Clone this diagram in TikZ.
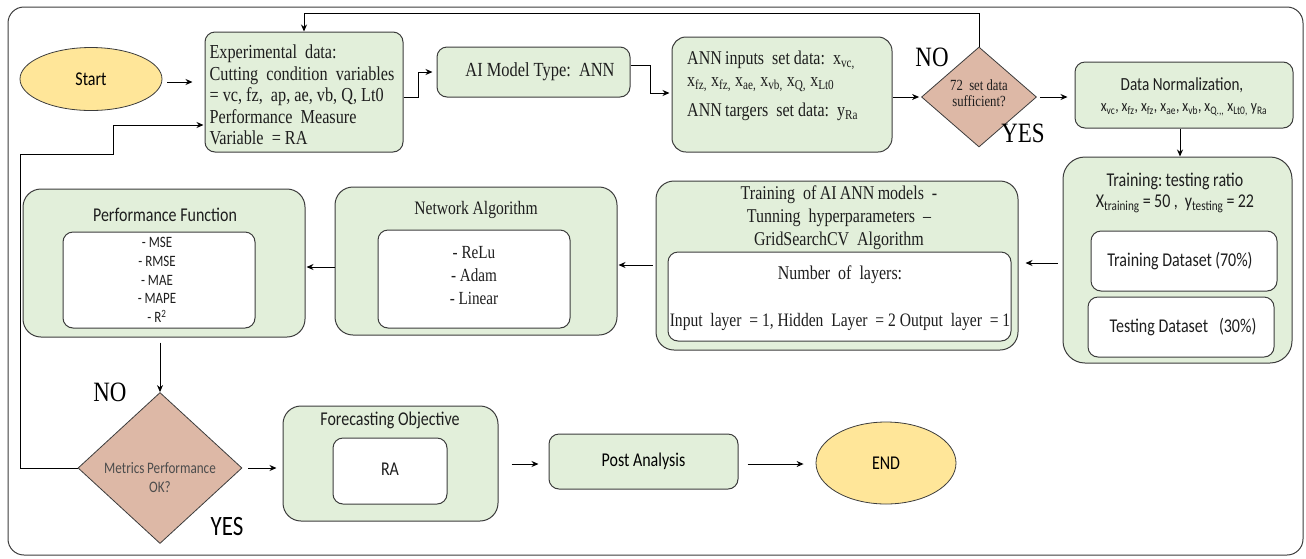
\documentclass[tikz,border=0pt]{standalone}
\usepackage{fontspec}
\setmainfont{Liberation Serif}[FakeStretch=0.82]
\newfontfamily\sansf{Carlito}[FakeStretch=0.82]
\usetikzlibrary{shapes.geometric,arrows.meta,calc}
\definecolor{boxg}{RGB}{226,239,218}
\definecolor{bordc}{RGB}{60,60,60}
\definecolor{termy}{RGB}{255,230,153}
\definecolor{decc}{RGB}{221,184,166}
\definecolor{txtc}{RGB}{30,30,30}
\newcommand\fsz[2]{\fontsize{#1}{#2}\selectfont}
\newcommand\sbs[1]{\textsubscript{#1}}
\tikzset{
  gbox/.style={draw=bordc, fill=boxg, line width=1pt, rounded corners=#1, inner sep=0pt},
  gbox/.default=10pt,
  wbox/.style={draw=bordc, fill=white, line width=1pt, rounded corners=10pt, inner sep=0pt},
  term/.style={ellipse, draw=bordc, fill=termy, line width=0.8pt, inner sep=0pt, font=\sansf\fsz{19.5}{22}},
  dec/.style={diamond, draw=bordc, fill=decc, line width=0.8pt, inner sep=0pt},
  txt/.style={inner sep=0pt, text=txtc, align=center},
  arr/.style={-{Stealth[length=7pt,width=6pt]}, line width=1pt, draw=black},
  big/.style={inner sep=0pt, font=\fsz{28}{30}}
}
\begin{document}
\begin{tikzpicture}[x=1pt,y=-1pt]
\useasboundingbox (0,0) rectangle (1306,558);
% frame
\draw[draw=bordc, line width=1pt, rounded corners=16pt] (8,7) rectangle (1303,555);

% top row
\node[term, minimum width=142pt, minimum height=63pt] (start) at (91,79) {Start};
\node[gbox, minimum width=198pt, minimum height=120pt] (exp) at (304,92) {};
\node[txt, align=left, font=\fsz{19.8}{21.5}] (expt) at (302,95)
  {Experimental\ \ data:\\Cutting\ \ condition\ \ variables\\= vc, fz,\ \ ap, ae, vb, Q, Lt0\\Performance\ \ Measure\\Variable\ \ = RA};
\node[gbox, minimum width=193pt, minimum height=50pt] (ai) at (533.5,72) {};
\node[txt, font=\fsz{20}{22}] (ait) at (540,72) {AI Model Type:\ \ ANN};
\node[gbox=14pt, minimum width=220pt, minimum height=115pt] (ann) at (782,94.5) {};
\node[txt, align=left, anchor=west, font=\fsz{19.5}{22}] (annt) at (687,71)
  {ANN\,inputs\ \ set data:\ \ x\sbs{vc,}\\x\sbs{fz,} x\sbs{fz,} x\sbs{ae,} x\sbs{vb,} x\sbs{Q,} x\sbs{Lt0}};
\node[txt, anchor=west, font=\fsz{19.5}{22}] (annt2) at (687,112) {ANN\,targers\ \ set data:\ \ y\sbs{Ra}};
\node[dec, minimum width=115pt, minimum height=100pt] (d1) at (979,97) {};
\node[txt, font=\fsz{15.5}{16}] (d1t) at (979,93) {72\ \ set data\\sufficient?};
\node[big] (no1) at (932,57) {NO};
\node[big] (yes1) at (1023,133) {YES};
\node[gbox, minimum width=218pt, minimum height=66pt] (dn) at (1184,95) {};
\node[txt, font=\sansf\fsz{18.5}{20}] (dnt) at (1182,85) {Data Normalization,};
\node[txt, font=\sansf\fsz{16.5}{18}] (dnt2) at (1184,110)
  {x\sbs{vc}, x\sbs{fz}, x\sbs{fz}, x\sbs{ae}, x\sbs{vb}, x\sbs{Q.,,} x\sbs{Lt0,} y\sbs{Ra}};

% middle row
\node[gbox=22pt, minimum width=229pt, minimum height=206pt] (train) at (1177.5,260) {};
\node[txt, font=\sansf\fsz{19.5}{21}] (traint) at (1175,181) {Training:\,testing ratio};
\node[txt, font=\sansf\fsz{19.5}{21}] (traint2) at (1175,204) {X\sbs{training}\,=\,50 ,\, y\sbs{testing}\,=\,22};
\node[wbox, minimum width=186pt, minimum height=60pt] (tr1) at (1184,261) {};
\node[txt, font=\sansf\fsz{19.5}{21}] (tr1t) at (1180,261) {Training Dataset\,(70\%)};
\node[wbox, minimum width=186pt, minimum height=60pt] (tr2) at (1181,327) {};
\node[txt, font=\sansf\fsz{19.5}{21}] (tr2t) at (1183,327) {Testing Dataset\ \ \ (30\%)};

\node[gbox=18pt, minimum width=362pt, minimum height=169pt] (grid) at (837,265.5) {};
\node[txt, font=\fsz{19.5}{23}] (gridt) at (839,218)
  {Training\ \ of\,AI\,ANN\,models\ \ -\\Tunning\ \ hyperparameters\ \ --\\GridSearchCV\ \ Algorithm};
\node[wbox, minimum width=343pt, minimum height=89pt] (gridin) at (839.5,296.5) {};
\node[txt, font=\fsz{19.5}{21}] (gridt2) at (840,275) {Number\ \ of\ \ layers:};
\node[txt, font=\fsz{19}{21}] (gridt3) at (840,322) {Input\ \ layer\ \ = 1, Hidden\ \ Layer\ \ = 2 Output\ \ layer\ \ = 1};

\node[gbox=18pt, minimum width=282pt, minimum height=148pt] (net) at (476,261) {};
\node[txt, font=\fsz{19}{21}] (nett) at (476,210) {Network Algorithm};
\node[wbox, minimum width=192pt, minimum height=98pt] (netin) at (474,279) {};
\node[txt, font=\fsz{18.5}{23}] (nett2) at (474,276) {- ReLu\\- Adam\\- Linear};

\node[gbox=18pt, minimum width=282pt, minimum height=148pt] (perf) at (164,263) {};
\node[txt, font=\sansf\fsz{19.5}{21}] (perft) at (165,215) {Performance Function};
\node[wbox, minimum width=192pt, minimum height=96pt] (perfin) at (159,280) {};
\node[txt, font=\sansf\fsz{15.8}{18.7}] (perft2) at (157,280) {- MSE\\- RMSE\\- MAE\\- MAPE\\- R\textsuperscript{2}};

% bottom row
\node[dec, minimum width=164pt, minimum height=151pt] (d2) at (160,468) {};
\node[txt, font=\sansf\fsz{16}{19}, text=black!70] (d2t) at (160,478) {Metrics\,Performance\\OK?};
\node[big] (no2) at (110,392) {NO};
\node[big, font=\sansf\fsz{28}{30}] (yes2) at (227,526) {YES};
\node[gbox=18pt, minimum width=215pt, minimum height=115pt] (fore) at (390.5,463.5) {};
\node[txt, font=\sansf\fsz{19.5}{21}] (foret) at (390,420) {Forecasting Objective};
\node[wbox, minimum width=114pt, minimum height=66pt] (forein) at (390,471) {};
\node[txt, font=\sansf\fsz{19.5}{21}] (foret2) at (390,469) {RA};
\node[gbox, minimum width=189pt, minimum height=55pt, font=\sansf\fsz{19.5}{21}] (post) at (643.5,461.5) {Post Analysis};
\node[term, minimum width=140pt, minimum height=82pt] (end) at (886,463) {END};

% connectors
\draw[arr, shorten <=5pt, shorten >=12pt] (start.east |- 0,82) -- (exp.west |- 0,82);
\draw[arr, shorten >=4pt] (exp.east |- 0,97) -- (418,97) |- (ai.west);
\draw[arr, shorten >=2pt] (ai.east |- 0,65) -- (650,65) |- (ann.west |- 0,93);
\draw[arr, shorten >=2pt] (ann.east |- d1.west) -- (d1.west);
\draw[arr] (d1.north) -- (979,13) -| (exp.north);
\draw[arr, shorten <=3pt, shorten >=7pt] (d1.east) -- (dn.west |- d1.east);
\draw[arr] (dn.south -| 1180,0) -- (train.north -| 1180,0);
\draw[arr, shorten <=5pt, shorten >=7pt] (train.west |- 0,263) -- (grid.east |- 0,263);
\draw[arr, shorten <=3pt, shorten >=1pt] (grid.west |- 0,265) -- (net.east |- 0,265);
\draw[arr, shorten >=1pt] (net.west |- 0,267) -- (perf.east |- 0,267);
\draw[arr, shorten <=5pt] (d2.north |- perf.south) -- (d2.north);
\draw[arr, shorten <=6pt, shorten >=6pt] (d2.east) -- (fore.west |- d2.east);
\draw[arr, shorten <=13pt, shorten >=10pt] (fore.east |- 0,464) -- (post.west |- 0,464);
\draw[arr, shorten <=9pt, shorten >=12pt] (post.east |- 0,464) -- (end.west |- 0,464);
\draw[arr, shorten >=1pt] (d2.west) -| (20,154) -| (113,125) -- (exp.west |- 0,125);
\end{tikzpicture}
\end{document}
